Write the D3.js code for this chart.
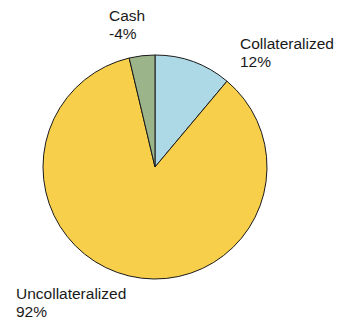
<!DOCTYPE html>
<html>
<head>
<meta charset="utf-8">
<script src="https://cdn.jsdelivr.net/npm/d3@7"></script>
<style>
  html, body { margin: 0; padding: 0; background: #fff; }
  svg text { font-family: "Liberation Sans", Arial, sans-serif; font-size: 15.5px; fill: #1a1a1a; }
</style>
</head>
<body>
<svg id="chart" width="338" height="323"></svg>
<script>
const categories = ["Collateralized", "Uncollateralized", "Cash"];
const shares = [12, 92, -4];
const colors = ["#add8e6", "#f8cf4b", "#9bb48a"];
// label anchor (left edge of text, first baseline) per slice
const labelPos = [[240, 49], [16, 299], [109, 21]];

const data = categories.map((c, i) => ({ name: c, value: shares[i], color: colors[i], pos: labelPos[i] }));

const svg = d3.select("#chart");
const cx = 155, cy = 167, r = 112;

// slice sizes use the magnitude of each share; order kept as listed
const pie = d3.pie().sort(null).value(d => Math.abs(d.value));
const arc = d3.arc().innerRadius(0).outerRadius(r);

const g = svg.append("g").attr("transform", `translate(${cx},${cy})`);
g.selectAll("path")
  .data(pie(data))
  .join("path")
  .attr("d", arc)
  .attr("fill", d => d.data.color)
  .attr("stroke", "#1a1a1a")
  .attr("stroke-width", 1)
  .attr("stroke-linejoin", "round");

const labels = svg.selectAll("text.lbl")
  .data(data)
  .join("text")
  .attr("class", "lbl")
  .attr("x", d => d.pos[0])
  .attr("y", d => d.pos[1]);
labels.append("tspan").attr("x", d => d.pos[0]).text(d => d.name);
labels.append("tspan").attr("x", d => d.pos[0]).attr("dy", 18.3).text(d => `${d.value}%`);
</script>
</body>
</html>
